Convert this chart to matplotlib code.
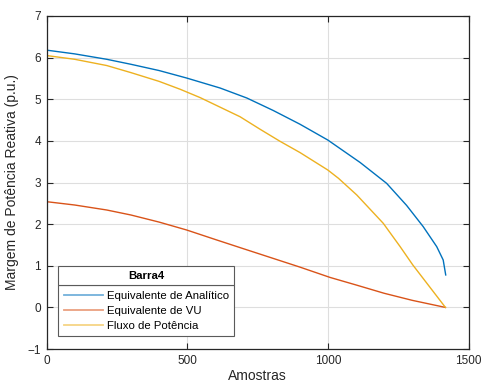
import numpy as np
import matplotlib
matplotlib.use('Agg')
from matplotlib import pyplot as plt
from matplotlib.patches import Rectangle

plt.rcParams['font.family'] = ['Liberation Sans', 'DejaVu Sans']

# margem de potencia reativa (p.u.) por amostra
x_analitico = [0, 100, 214, 300, 400, 498, 617, 712, 806, 901, 1000,
               1115, 1209, 1280, 1339, 1387, 1410, 1419]
y_analitico = [6.18, 6.09, 5.96, 5.84, 5.69, 5.51, 5.27, 5.03, 4.73, 4.40, 4.02,
               3.48, 2.98, 2.45, 1.94, 1.46, 1.14, 0.78]

x_vu = [0, 100, 214, 300, 400, 498, 605, 700, 800, 900, 1008,
        1100, 1200, 1300, 1418]
y_vu = [2.54, 2.46, 2.34, 2.22, 2.05, 1.86, 1.62, 1.41, 1.19, 0.97, 0.72,
        0.54, 0.34, 0.17, 0.0]

x_fluxo = [0, 100, 214, 300, 400, 475, 546, 617, 688, 759, 830, 901, 1000, 1038,
           1103, 1197, 1257, 1302, 1418]
y_fluxo = [6.05, 5.96, 5.81, 5.64, 5.43, 5.24, 5.04, 4.81, 4.58, 4.28, 3.99, 3.72, 3.30, 3.10,
           2.70, 2.02, 1.46, 1.02, 0.0]

nomes = ['Equivalente de Analítico', 'Equivalente de VU', 'Fluxo de Potência']
cores = ['#0072BD', '#D95319', '#EDB120']
txt = '#262626'
borda = '#5a5a5a'

fig = plt.figure(figsize=(4.82, 3.90), dpi=100)
ax = fig.add_axes([0.0965, 0.105, 0.8755, 0.854])

ax.plot(x_analitico, y_analitico, color=cores[0], lw=1.0, label=nomes[0])
ax.plot(x_vu, y_vu, color=cores[1], lw=1.0, label=nomes[1])
ax.plot(x_fluxo, y_fluxo, color=cores[2], lw=1.0, label=nomes[2])

ax.set_xlim(0, 1500)
ax.set_ylim(-1, 7)
ax.set_xticks([0, 500, 1000, 1500])
ax.set_yticks(range(-1, 8))
ax.grid(True, color='#dedede', lw=0.8)
ax.set_axisbelow(True)
ax.tick_params(direction='in', length=4, width=0.8, top=True, right=True,
               labelsize=8.5, colors=txt, pad=4)
for s in ax.spines.values():
    s.set_color(txt)
    s.set_linewidth(0.9)

ax.set_xlabel('Amostras', fontsize=10, color=txt, labelpad=2)
ax.set_ylabel('Margem de Potência Reativa (p.u.)', fontsize=10, color=txt, labelpad=6)

# legenda sem titulo; o titulo vai numa caixa propria por cima
leg = ax.legend(loc='lower left', bbox_to_anchor=(0.0273, 0.039, 0.417, 0.15),
                mode='expand', fontsize=8.2,
                fancybox=False, edgecolor=borda, framealpha=1,
                borderpad=0.48, labelspacing=0.43, handlelength=3.5,
                handletextpad=0.35, borderaxespad=0)
leg.get_frame().set_linewidth(0.8)
for h in leg.legend_handles:
    h.set_linewidth(1.3)
    h.set_alpha(0.55)

fig.canvas.draw()
inv = ax.transAxes.inverted()
fb = leg.get_frame().get_window_extent()
(bx0, by1) = inv.transform((fb.x0, fb.y1))
(bx1, by2) = inv.transform((fb.x1, fb.y1 + 19))
caixa = Rectangle((bx0, by1), bx1 - bx0, by2 - by1, transform=ax.transAxes,
                  facecolor='white', edgecolor=borda, lw=0.8, zorder=6)
ax.add_patch(caixa)
ax.text((bx0 + bx1) / 2, (by1 + by2) / 2, 'Barra4', transform=ax.transAxes,
        ha='center', va='center', fontsize=8.2, fontweight='bold', color='black',
        zorder=7)

fig.savefig('out.png', dpi=100)
